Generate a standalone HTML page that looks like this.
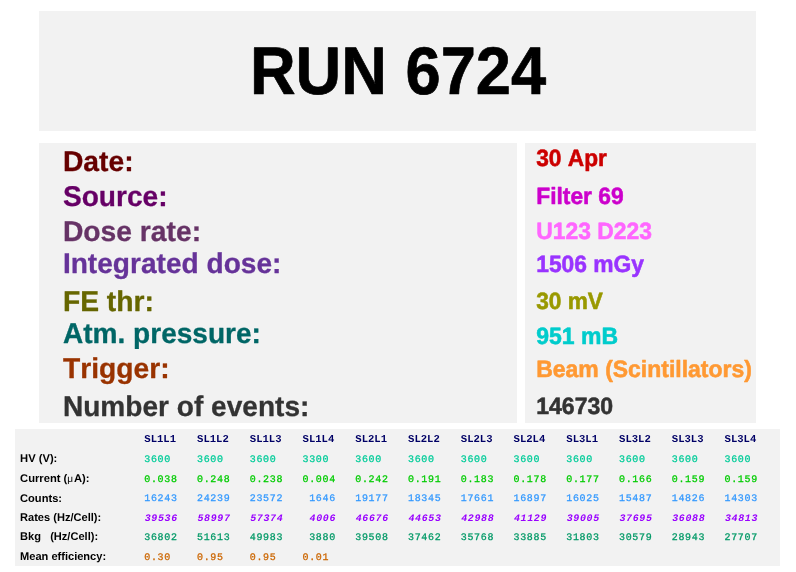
<!DOCTYPE html>
<html><head><meta charset="utf-8"><title>RUN 6724</title>
<style>
html,body{margin:0;padding:0;background:#fff;}
svg{display:block;will-change:transform;}
text{font-family:"Liberation Sans",sans-serif;font-weight:bold;white-space:pre;text-rendering:geometricPrecision;font-kerning:none;}
.m{font-family:"Liberation Mono",monospace;font-weight:normal;}
.mb{font-family:"Liberation Mono",monospace;font-weight:bold;}
.mi{font-family:"Liberation Mono",monospace;font-weight:bold;font-style:italic;}
</style></head><body>
<svg width="796" height="572" viewBox="0 0 796 572">
<rect x="0" y="0" width="796" height="572" fill="#ffffff"/>
<rect x="39" y="11" width="717" height="120" fill="#f2f2f2"/>
<rect x="39" y="143" width="478" height="280" fill="#f2f2f2"/>
<rect x="525" y="143" width="231" height="280" fill="#f2f2f2"/>
<rect x="15" y="429" width="765" height="137" fill="#f2f2f2"/>
<text transform="translate(249.90,94) scale(0.9394,1)" font-size="67.3" fill="#000000" stroke="#000000" stroke-width="0.7" stroke-linejoin="round" xml:space="preserve">RUN <tspan x="165.69">6724</tspan></text>
<text transform="translate(62.90,171) scale(0.9900,1)" font-size="28.55" fill="#660000" stroke="#660000" stroke-width="0.3" stroke-linejoin="round" xml:space="preserve">Date:</text>
<text transform="translate(62.90,206) scale(0.9850,1)" font-size="28.55" fill="#660066" stroke="#660066" stroke-width="0.3" stroke-linejoin="round" xml:space="preserve">Source:</text>
<text transform="translate(62.90,241) scale(0.9900,1)" font-size="28.55" fill="#663366" stroke="#663366" stroke-width="0.3" stroke-linejoin="round" xml:space="preserve">Dose rate:</text>
<text transform="translate(62.90,273) scale(0.9841,1)" font-size="28.55" fill="#663399" stroke="#663399" stroke-width="0.3" stroke-linejoin="round" xml:space="preserve">Integrated dose:</text>
<text transform="translate(62.90,311) scale(0.9900,1)" font-size="28.55" fill="#666600" stroke="#666600" stroke-width="0.3" stroke-linejoin="round" xml:space="preserve">FE thr:</text>
<text transform="translate(62.90,343) scale(0.9831,1)" font-size="28.55" fill="#006666" stroke="#006666" stroke-width="0.3" stroke-linejoin="round" xml:space="preserve">Atm. pressure:</text>
<text transform="translate(62.90,378) scale(0.9892,1)" font-size="28.55" fill="#993300" stroke="#993300" stroke-width="0.3" stroke-linejoin="round" xml:space="preserve">Trigger:</text>
<text transform="translate(62.90,416) scale(0.9836,1)" font-size="28.55" fill="#333333" stroke="#333333" stroke-width="0.3" stroke-linejoin="round" xml:space="preserve">Number of events:</text>
<text transform="translate(536.20,166) scale(0.9626,1)" font-size="23.6" fill="#cc0000" stroke="#cc0000" stroke-width="0.55" stroke-linejoin="round" xml:space="preserve">30 Apr</text>
<text transform="translate(536.20,204) scale(0.9665,1)" font-size="23.6" fill="#cc00cc" stroke="#cc00cc" stroke-width="0.55" stroke-linejoin="round" xml:space="preserve">Filter 69</text>
<text transform="translate(536.20,239) scale(0.9698,1)" font-size="23.6" fill="#ff66ff" stroke="#ff66ff" stroke-width="0.55" stroke-linejoin="round" xml:space="preserve">U123 D223</text>
<text transform="translate(536.20,272) scale(0.9670,1)" font-size="23.6" fill="#9933ff" stroke="#9933ff" stroke-width="0.55" stroke-linejoin="round" xml:space="preserve">1506 mGy</text>
<text transform="translate(536.20,309) scale(0.9606,1)" font-size="23.6" fill="#999900" stroke="#999900" stroke-width="0.55" stroke-linejoin="round" xml:space="preserve">30 mV</text>
<text transform="translate(536.20,344) scale(0.9747,1)" font-size="23.6" fill="#00cccc" stroke="#00cccc" stroke-width="0.55" stroke-linejoin="round" xml:space="preserve">951 mB</text>
<text transform="translate(536.20,377) scale(0.9733,1)" font-size="23.6" fill="#ff9933" stroke="#ff9933" stroke-width="0.55" stroke-linejoin="round" xml:space="preserve">Beam (Scintillators)</text>
<text transform="translate(536.20,414) scale(0.9772,1)" font-size="23.6" fill="#333333" stroke="#333333" stroke-width="0.55" stroke-linejoin="round" xml:space="preserve">146730</text>
<text class="mb" transform="translate(144.30,442) scale(0.9990,1)" font-size="10.6" fill="#000066" xml:space="preserve">SL1L1</text>
<text class="mb" transform="translate(197.05,442) scale(0.9990,1)" font-size="10.6" fill="#000066" xml:space="preserve">SL1L2</text>
<text class="mb" transform="translate(249.80,442) scale(0.9990,1)" font-size="10.6" fill="#000066" xml:space="preserve">SL1L3</text>
<text class="mb" transform="translate(302.55,442) scale(0.9990,1)" font-size="10.6" fill="#000066" xml:space="preserve">SL1L4</text>
<text class="mb" transform="translate(355.30,442) scale(0.9990,1)" font-size="10.6" fill="#000066" xml:space="preserve">SL2L1</text>
<text class="mb" transform="translate(408.05,442) scale(0.9990,1)" font-size="10.6" fill="#000066" xml:space="preserve">SL2L2</text>
<text class="mb" transform="translate(460.80,442) scale(0.9990,1)" font-size="10.6" fill="#000066" xml:space="preserve">SL2L3</text>
<text class="mb" transform="translate(513.55,442) scale(0.9990,1)" font-size="10.6" fill="#000066" xml:space="preserve">SL2L4</text>
<text class="mb" transform="translate(566.30,442) scale(0.9990,1)" font-size="10.6" fill="#000066" xml:space="preserve">SL3L1</text>
<text class="mb" transform="translate(619.05,442) scale(0.9990,1)" font-size="10.6" fill="#000066" xml:space="preserve">SL3L2</text>
<text class="mb" transform="translate(671.80,442) scale(0.9990,1)" font-size="10.6" fill="#000066" xml:space="preserve">SL3L3</text>
<text class="mb" transform="translate(724.55,442) scale(0.9990,1)" font-size="10.6" fill="#000066" xml:space="preserve">SL3L4</text>
<text transform="translate(20.05,462) scale(1.0039,1)" font-size="11.15" fill="#000000" xml:space="preserve">HV (V):</text>
<text class="m" transform="translate(144.30,462) scale(0.9990,1)" font-size="10.0" letter-spacing="0.65" fill="#00cc99" stroke="#00cc99" stroke-width="0.28" stroke-linejoin="round" xml:space="preserve">3600</text>
<text class="m" transform="translate(197.05,462) scale(0.9990,1)" font-size="10.0" letter-spacing="0.65" fill="#00cc99" stroke="#00cc99" stroke-width="0.28" stroke-linejoin="round" xml:space="preserve">3600</text>
<text class="m" transform="translate(249.80,462) scale(0.9990,1)" font-size="10.0" letter-spacing="0.65" fill="#00cc99" stroke="#00cc99" stroke-width="0.28" stroke-linejoin="round" xml:space="preserve">3600</text>
<text class="m" transform="translate(302.55,462) scale(0.9990,1)" font-size="10.0" letter-spacing="0.65" fill="#00cc99" stroke="#00cc99" stroke-width="0.28" stroke-linejoin="round" xml:space="preserve">3300</text>
<text class="m" transform="translate(355.30,462) scale(0.9990,1)" font-size="10.0" letter-spacing="0.65" fill="#00cc99" stroke="#00cc99" stroke-width="0.28" stroke-linejoin="round" xml:space="preserve">3600</text>
<text class="m" transform="translate(408.05,462) scale(0.9990,1)" font-size="10.0" letter-spacing="0.65" fill="#00cc99" stroke="#00cc99" stroke-width="0.28" stroke-linejoin="round" xml:space="preserve">3600</text>
<text class="m" transform="translate(460.80,462) scale(0.9990,1)" font-size="10.0" letter-spacing="0.65" fill="#00cc99" stroke="#00cc99" stroke-width="0.28" stroke-linejoin="round" xml:space="preserve">3600</text>
<text class="m" transform="translate(513.55,462) scale(0.9990,1)" font-size="10.0" letter-spacing="0.65" fill="#00cc99" stroke="#00cc99" stroke-width="0.28" stroke-linejoin="round" xml:space="preserve">3600</text>
<text class="m" transform="translate(566.30,462) scale(0.9990,1)" font-size="10.0" letter-spacing="0.65" fill="#00cc99" stroke="#00cc99" stroke-width="0.28" stroke-linejoin="round" xml:space="preserve">3600</text>
<text class="m" transform="translate(619.05,462) scale(0.9990,1)" font-size="10.0" letter-spacing="0.65" fill="#00cc99" stroke="#00cc99" stroke-width="0.28" stroke-linejoin="round" xml:space="preserve">3600</text>
<text class="m" transform="translate(671.80,462) scale(0.9990,1)" font-size="10.0" letter-spacing="0.65" fill="#00cc99" stroke="#00cc99" stroke-width="0.28" stroke-linejoin="round" xml:space="preserve">3600</text>
<text class="m" transform="translate(724.55,462) scale(0.9990,1)" font-size="10.0" letter-spacing="0.65" fill="#00cc99" stroke="#00cc99" stroke-width="0.28" stroke-linejoin="round" xml:space="preserve">3600</text>
<text transform="translate(20.05,482) scale(1.0039,1)" font-size="11.15" fill="#000000" xml:space="preserve">Current (<tspan font-weight="normal" font-size="10">μ</tspan><tspan dx="0.95">A):</tspan></text>
<text class="m" transform="translate(144.30,482) scale(0.9990,1)" font-size="10.0" letter-spacing="0.65" fill="#00cc00" stroke="#00cc00" stroke-width="0.28" stroke-linejoin="round" xml:space="preserve">0.038</text>
<text class="m" transform="translate(197.05,482) scale(0.9990,1)" font-size="10.0" letter-spacing="0.65" fill="#00cc00" stroke="#00cc00" stroke-width="0.28" stroke-linejoin="round" xml:space="preserve">0.248</text>
<text class="m" transform="translate(249.80,482) scale(0.9990,1)" font-size="10.0" letter-spacing="0.65" fill="#00cc00" stroke="#00cc00" stroke-width="0.28" stroke-linejoin="round" xml:space="preserve">0.238</text>
<text class="m" transform="translate(302.55,482) scale(0.9990,1)" font-size="10.0" letter-spacing="0.65" fill="#00cc00" stroke="#00cc00" stroke-width="0.28" stroke-linejoin="round" xml:space="preserve">0.004</text>
<text class="m" transform="translate(355.30,482) scale(0.9990,1)" font-size="10.0" letter-spacing="0.65" fill="#00cc00" stroke="#00cc00" stroke-width="0.28" stroke-linejoin="round" xml:space="preserve">0.242</text>
<text class="m" transform="translate(408.05,482) scale(0.9990,1)" font-size="10.0" letter-spacing="0.65" fill="#00cc00" stroke="#00cc00" stroke-width="0.28" stroke-linejoin="round" xml:space="preserve">0.191</text>
<text class="m" transform="translate(460.80,482) scale(0.9990,1)" font-size="10.0" letter-spacing="0.65" fill="#00cc00" stroke="#00cc00" stroke-width="0.28" stroke-linejoin="round" xml:space="preserve">0.183</text>
<text class="m" transform="translate(513.55,482) scale(0.9990,1)" font-size="10.0" letter-spacing="0.65" fill="#00cc00" stroke="#00cc00" stroke-width="0.28" stroke-linejoin="round" xml:space="preserve">0.178</text>
<text class="m" transform="translate(566.30,482) scale(0.9990,1)" font-size="10.0" letter-spacing="0.65" fill="#00cc00" stroke="#00cc00" stroke-width="0.28" stroke-linejoin="round" xml:space="preserve">0.177</text>
<text class="m" transform="translate(619.05,482) scale(0.9990,1)" font-size="10.0" letter-spacing="0.65" fill="#00cc00" stroke="#00cc00" stroke-width="0.28" stroke-linejoin="round" xml:space="preserve">0.166</text>
<text class="m" transform="translate(671.80,482) scale(0.9990,1)" font-size="10.0" letter-spacing="0.65" fill="#00cc00" stroke="#00cc00" stroke-width="0.28" stroke-linejoin="round" xml:space="preserve">0.159</text>
<text class="m" transform="translate(724.55,482) scale(0.9990,1)" font-size="10.0" letter-spacing="0.65" fill="#00cc00" stroke="#00cc00" stroke-width="0.28" stroke-linejoin="round" xml:space="preserve">0.159</text>
<text transform="translate(20.05,502) scale(0.9978,1)" font-size="11.15" fill="#000000" xml:space="preserve">Counts:</text>
<text class="m" transform="translate(144.30,501) scale(0.9990,1)" font-size="10.0" letter-spacing="0.65" fill="#3399ff" stroke="#3399ff" stroke-width="0.28" stroke-linejoin="round" xml:space="preserve">16243</text>
<text class="m" transform="translate(197.05,501) scale(0.9990,1)" font-size="10.0" letter-spacing="0.65" fill="#3399ff" stroke="#3399ff" stroke-width="0.28" stroke-linejoin="round" xml:space="preserve">24239</text>
<text class="m" transform="translate(249.80,501) scale(0.9990,1)" font-size="10.0" letter-spacing="0.65" fill="#3399ff" stroke="#3399ff" stroke-width="0.28" stroke-linejoin="round" xml:space="preserve">23572</text>
<text class="m" transform="translate(302.55,501) scale(0.9990,1)" font-size="10.0" letter-spacing="0.65" fill="#3399ff" stroke="#3399ff" stroke-width="0.28" stroke-linejoin="round" xml:space="preserve"> 1646</text>
<text class="m" transform="translate(355.30,501) scale(0.9990,1)" font-size="10.0" letter-spacing="0.65" fill="#3399ff" stroke="#3399ff" stroke-width="0.28" stroke-linejoin="round" xml:space="preserve">19177</text>
<text class="m" transform="translate(408.05,501) scale(0.9990,1)" font-size="10.0" letter-spacing="0.65" fill="#3399ff" stroke="#3399ff" stroke-width="0.28" stroke-linejoin="round" xml:space="preserve">18345</text>
<text class="m" transform="translate(460.80,501) scale(0.9990,1)" font-size="10.0" letter-spacing="0.65" fill="#3399ff" stroke="#3399ff" stroke-width="0.28" stroke-linejoin="round" xml:space="preserve">17661</text>
<text class="m" transform="translate(513.55,501) scale(0.9990,1)" font-size="10.0" letter-spacing="0.65" fill="#3399ff" stroke="#3399ff" stroke-width="0.28" stroke-linejoin="round" xml:space="preserve">16897</text>
<text class="m" transform="translate(566.30,501) scale(0.9990,1)" font-size="10.0" letter-spacing="0.65" fill="#3399ff" stroke="#3399ff" stroke-width="0.28" stroke-linejoin="round" xml:space="preserve">16025</text>
<text class="m" transform="translate(619.05,501) scale(0.9990,1)" font-size="10.0" letter-spacing="0.65" fill="#3399ff" stroke="#3399ff" stroke-width="0.28" stroke-linejoin="round" xml:space="preserve">15487</text>
<text class="m" transform="translate(671.80,501) scale(0.9990,1)" font-size="10.0" letter-spacing="0.65" fill="#3399ff" stroke="#3399ff" stroke-width="0.28" stroke-linejoin="round" xml:space="preserve">14826</text>
<text class="m" transform="translate(724.55,501) scale(0.9990,1)" font-size="10.0" letter-spacing="0.65" fill="#3399ff" stroke="#3399ff" stroke-width="0.28" stroke-linejoin="round" xml:space="preserve">14303</text>
<text transform="translate(20.05,521) scale(0.9928,1)" font-size="11.15" fill="#000000" xml:space="preserve">Rates (Hz/Cell):</text>
<text class="mi" transform="translate(144.65,521) scale(0.9990,1)" font-size="10.0" letter-spacing="0.65" fill="#9900ff" xml:space="preserve">39536</text>
<text class="mi" transform="translate(197.40,521) scale(0.9990,1)" font-size="10.0" letter-spacing="0.65" fill="#9900ff" xml:space="preserve">58997</text>
<text class="mi" transform="translate(250.15,521) scale(0.9990,1)" font-size="10.0" letter-spacing="0.65" fill="#9900ff" xml:space="preserve">57374</text>
<text class="mi" transform="translate(302.90,521) scale(0.9990,1)" font-size="10.0" letter-spacing="0.65" fill="#9900ff" xml:space="preserve"> 4006</text>
<text class="mi" transform="translate(355.65,521) scale(0.9990,1)" font-size="10.0" letter-spacing="0.65" fill="#9900ff" xml:space="preserve">46676</text>
<text class="mi" transform="translate(408.40,521) scale(0.9990,1)" font-size="10.0" letter-spacing="0.65" fill="#9900ff" xml:space="preserve">44653</text>
<text class="mi" transform="translate(461.15,521) scale(0.9990,1)" font-size="10.0" letter-spacing="0.65" fill="#9900ff" xml:space="preserve">42988</text>
<text class="mi" transform="translate(513.90,521) scale(0.9990,1)" font-size="10.0" letter-spacing="0.65" fill="#9900ff" xml:space="preserve">41129</text>
<text class="mi" transform="translate(566.65,521) scale(0.9990,1)" font-size="10.0" letter-spacing="0.65" fill="#9900ff" xml:space="preserve">39005</text>
<text class="mi" transform="translate(619.40,521) scale(0.9990,1)" font-size="10.0" letter-spacing="0.65" fill="#9900ff" xml:space="preserve">37695</text>
<text class="mi" transform="translate(672.15,521) scale(0.9990,1)" font-size="10.0" letter-spacing="0.65" fill="#9900ff" xml:space="preserve">36088</text>
<text class="mi" transform="translate(724.90,521) scale(0.9990,1)" font-size="10.0" letter-spacing="0.65" fill="#9900ff" xml:space="preserve">34813</text>
<text transform="translate(20.05,540) scale(0.9928,1)" font-size="11.15" fill="#000000" xml:space="preserve">Bkg   (Hz/Cell):</text>
<text class="m" transform="translate(144.30,540) scale(0.9990,1)" font-size="10.0" letter-spacing="0.65" fill="#009966" stroke="#009966" stroke-width="0.28" stroke-linejoin="round" xml:space="preserve">36802</text>
<text class="m" transform="translate(197.05,540) scale(0.9990,1)" font-size="10.0" letter-spacing="0.65" fill="#009966" stroke="#009966" stroke-width="0.28" stroke-linejoin="round" xml:space="preserve">51613</text>
<text class="m" transform="translate(249.80,540) scale(0.9990,1)" font-size="10.0" letter-spacing="0.65" fill="#009966" stroke="#009966" stroke-width="0.28" stroke-linejoin="round" xml:space="preserve">49983</text>
<text class="m" transform="translate(302.55,540) scale(0.9990,1)" font-size="10.0" letter-spacing="0.65" fill="#009966" stroke="#009966" stroke-width="0.28" stroke-linejoin="round" xml:space="preserve"> 3880</text>
<text class="m" transform="translate(355.30,540) scale(0.9990,1)" font-size="10.0" letter-spacing="0.65" fill="#009966" stroke="#009966" stroke-width="0.28" stroke-linejoin="round" xml:space="preserve">39508</text>
<text class="m" transform="translate(408.05,540) scale(0.9990,1)" font-size="10.0" letter-spacing="0.65" fill="#009966" stroke="#009966" stroke-width="0.28" stroke-linejoin="round" xml:space="preserve">37462</text>
<text class="m" transform="translate(460.80,540) scale(0.9990,1)" font-size="10.0" letter-spacing="0.65" fill="#009966" stroke="#009966" stroke-width="0.28" stroke-linejoin="round" xml:space="preserve">35768</text>
<text class="m" transform="translate(513.55,540) scale(0.9990,1)" font-size="10.0" letter-spacing="0.65" fill="#009966" stroke="#009966" stroke-width="0.28" stroke-linejoin="round" xml:space="preserve">33885</text>
<text class="m" transform="translate(566.30,540) scale(0.9990,1)" font-size="10.0" letter-spacing="0.65" fill="#009966" stroke="#009966" stroke-width="0.28" stroke-linejoin="round" xml:space="preserve">31803</text>
<text class="m" transform="translate(619.05,540) scale(0.9990,1)" font-size="10.0" letter-spacing="0.65" fill="#009966" stroke="#009966" stroke-width="0.28" stroke-linejoin="round" xml:space="preserve">30579</text>
<text class="m" transform="translate(671.80,540) scale(0.9990,1)" font-size="10.0" letter-spacing="0.65" fill="#009966" stroke="#009966" stroke-width="0.28" stroke-linejoin="round" xml:space="preserve">28943</text>
<text class="m" transform="translate(724.55,540) scale(0.9990,1)" font-size="10.0" letter-spacing="0.65" fill="#009966" stroke="#009966" stroke-width="0.28" stroke-linejoin="round" xml:space="preserve">27707</text>
<text transform="translate(20.05,560) scale(0.9928,1)" font-size="11.15" fill="#000000" xml:space="preserve">Mean efficiency:</text>
<text class="m" transform="translate(144.30,560) scale(0.9990,1)" font-size="10.0" letter-spacing="0.65" fill="#cc6600" stroke="#cc6600" stroke-width="0.28" stroke-linejoin="round" xml:space="preserve">0.30</text>
<text class="m" transform="translate(197.05,560) scale(0.9990,1)" font-size="10.0" letter-spacing="0.65" fill="#cc6600" stroke="#cc6600" stroke-width="0.28" stroke-linejoin="round" xml:space="preserve">0.95</text>
<text class="m" transform="translate(249.80,560) scale(0.9990,1)" font-size="10.0" letter-spacing="0.65" fill="#cc6600" stroke="#cc6600" stroke-width="0.28" stroke-linejoin="round" xml:space="preserve">0.95</text>
<text class="m" transform="translate(302.55,560) scale(0.9990,1)" font-size="10.0" letter-spacing="0.65" fill="#cc6600" stroke="#cc6600" stroke-width="0.28" stroke-linejoin="round" xml:space="preserve">0.01</text>
</svg>
</body></html>
